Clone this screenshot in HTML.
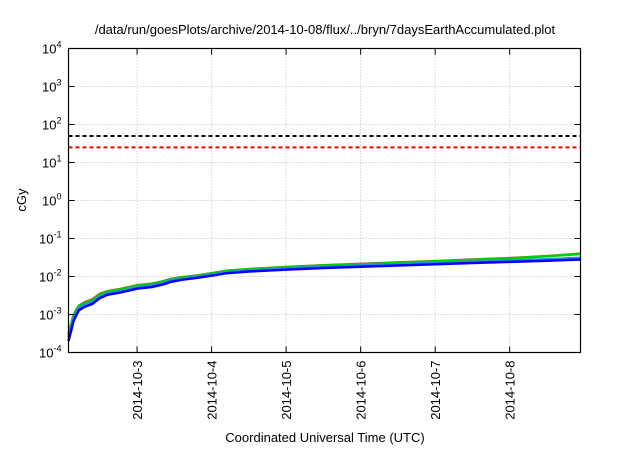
<!DOCTYPE html>
<html><head><meta charset="utf-8"><style>
body{margin:0;background:#fff}
svg{font-family:"Liberation Sans",sans-serif}
</style></head><body>
<svg id="chart" width="640" height="448" viewBox="0 0 640 448">
<text x="325" y="34" font-size="13" text-anchor="middle">/data/run/goesPlots/archive/2014-10-08/flux/../bryn/7daysEarthAccumulated.plot</text>
<text transform="translate(26,200) rotate(-90)" font-size="13" text-anchor="middle">cGy</text>
<text x="325" y="442" font-size="13" text-anchor="middle">Coordinated Universal Time (UTC)</text>
<g id="grid"></g><g id="series"></g><g id="axes"></g>
</svg>
<script>
const yTicks=[-4,-3,-2,-1,0,1,2,3,4];
const xTickDays=[3,4,5,6,7,8];
const xTickLabels=["2014-10-3","2014-10-4","2014-10-5","2014-10-6","2014-10-7","2014-10-8"];
const thresholdBlack=50;
const thresholdRed=25;
const days=[2.08,2.15,2.22,2.3,2.4,2.5,2.6,2.75,2.9,3.0,3.2,3.35,3.45,3.6,3.8,4.0,4.2,4.5,5.0,5.5,6.0,6.5,7.0,7.5,8.0,8.5,8.95];
const blue=[0.0002,0.0007,0.0013,0.0016,0.0019,0.0027,0.0033,0.0037,0.0043,0.0048,0.0053,0.0062,0.0072,0.0082,0.0092,0.0105,0.0122,0.0135,0.0152,0.0167,0.018,0.0195,0.021,0.0226,0.0242,0.026,0.028];
const cyan=blue.map((v,i)=>[0.00025,0.00085,0.0015,0.0018,0.0021,0.003,0.0036,0.004,0.0046,0.0052,0.0058,0.0067,0.0078,0.0088,0.0098,0.0112,0.013,0.0145,0.0163,0.018,0.0195,0.0212,0.0229,0.0246,0.0264,0.0284,0.031][i]);
const green=[0.0003,0.001,0.0017,0.002,0.0024,0.0034,0.004,0.0045,0.0052,0.0058,0.0064,0.0074,0.0085,0.0095,0.0105,0.012,0.014,0.0155,0.0175,0.0195,0.021,0.023,0.025,0.0275,0.03,0.034,0.039];
const red=[0.0003,0.001,0.0017,0.0021,0.0025,0.0035,0.0041,0.0046,0.0053,0.0059,0.0065,0.0075,0.0086,0.0096,0.0106,0.0122,0.0142,0.0157,0.0178,0.0198,0.0214,0.0235,0.0255,0.028,0.0305,0.0345,0.04];
const L=68.5,R=580.5,T=48.5,B=352.5,D0=2.08,D1=8.95;
const X=d=>L+(d-D0)/(D1-D0)*(R-L);
const Y=v=>B-(Math.log10(v)+4)/8*(B-T);
const NS="http://www.w3.org/2000/svg";
function mk(tag,attrs,parent,text){const e=document.createElementNS(NS,tag);for(const k in attrs)e.setAttribute(k,attrs[k]);if(text!=null)e.textContent=text;parent.appendChild(e);return e;}
const grid=document.getElementById('grid'),ser=document.getElementById('series'),ax=document.getElementById('axes');
yTicks.forEach(p=>{const y=B-(p+4)/8*(B-T);
 if(p>-4&&p<4){const g=mk('line',{x1:L,x2:R,y1:y,y2:y,stroke:'#bbb','stroke-dasharray':'1,2'},grid);
 
 }
 const t1=mk('line',{x1:L,x2:L+6,y1:y,y2:y,stroke:'#000'},ax);
 
 
 const t2=mk('line',{x1:R-6,x2:R,y1:y,y2:y,stroke:'#000'},ax);
 
 
 const tx=mk('text',{x:L-7,y:y+5,'font-size':13,'text-anchor':'end'},ax);
 
 
 mk('tspan',{},tx,'10');mk('tspan',{dy:-6,'font-size':9},tx,String(p));
});
xTickDays.forEach((d,i)=>{const x=X(d);
 const g=mk('line',{x1:x,x2:x,y1:T,y2:B,stroke:'#bbb','stroke-dasharray':'1,2'},grid);
 
 
 const t1=mk('line',{x1:x,x2:x,y1:B-6,y2:B,stroke:'#000'},ax);
 
 
 const t2=mk('line',{x1:x,x2:x,y1:T,y2:T+6,stroke:'#000'},ax);
 
 
 const tx=mk('text',{transform:`translate(${x+5},${B+8}) rotate(-90)`,'font-size':13,'text-anchor':'end'},ax,xTickLabels[i]);
 
 
});
const hb=mk('line',{x1:L,x2:R,y1:Y(thresholdBlack),y2:Y(thresholdBlack),stroke:'#000','stroke-width':2,'stroke-dasharray':'4,3'},ser);


const hr=mk('line',{x1:L,x2:R,y1:Y(thresholdRed),y2:Y(thresholdRed),stroke:'#e00','stroke-width':2,'stroke-dasharray':'4,3'},ser);


[[red,'#e03030','series-red'],[green,'#00d000','series-green'],[cyan,'#2090e0','series-cyan'],[blue,'#0000ff','series-blue']].forEach(([arr,c,n])=>{
 const pts=arr.map((v,i)=>X(days[i]).toFixed(1)+','+Y(v).toFixed(1)).join(' ');
 const pl=mk('polyline',{points:pts,fill:'none',stroke:c,'stroke-width':2.5},ser);
 
 
});
const fr=mk('rect',{x:L,y:T,width:R-L,height:B-T,fill:'none',stroke:'#000','stroke-width':1.2},ax);


</script>
</body></html>
